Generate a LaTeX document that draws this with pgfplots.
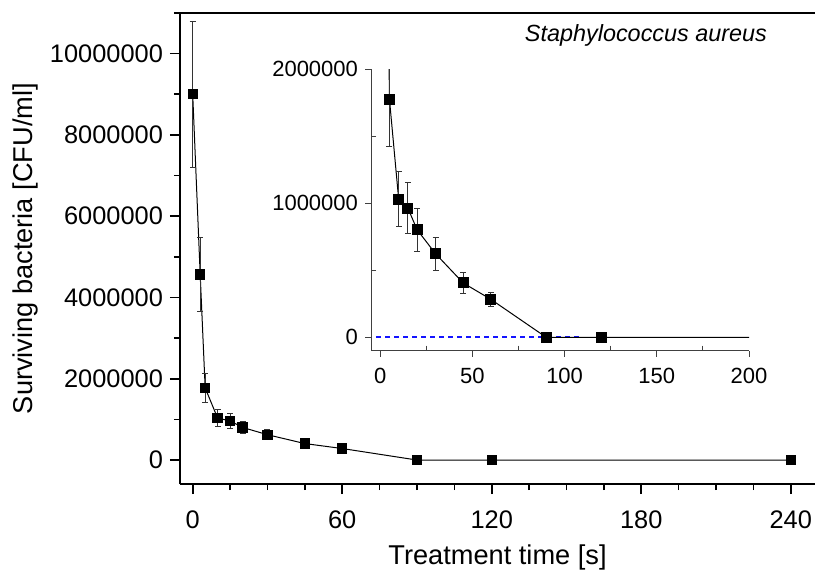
\documentclass[border=0pt]{standalone}
\usepackage{fontspec}
\setmainfont{Liberation Sans}
\usepackage{pgfplots}
\pgfplotsset{compat=1.18}
\definecolor{dashblue}{RGB}{20,20,255}

% time [s], surviving bacteria [CFU/ml], error
\pgfplotstableread{
t    n        e
0    9000000  1790000
3    4570000  910000
5    1775000  353000
10   1030000  206000
15   963000   191000
20   802000   159000
30   623000   125000
45   405000   80000
60   283000   53000
90   0        0
120  0        0
240  0        0
}\survdata

\begin{document}
\begin{tikzpicture}
\useasboundingbox (0,0) rectangle (407.5pt,284.5pt);
% main axis
\begin{axis}[
    at={(90pt,42.5pt)}, anchor=south west,
    scale only axis, width=317.5pt, height=235.5pt,
    xmin=-5.1, xmax=249.75, ymin=-590000, ymax=11000000,
    axis x line=box, axis y line=left, axis line style={-, line width=1pt},
    xtick pos=bottom, ytick pos=left,
    tick align=outside, major tick length=5pt, minor tick length=3pt,
    every tick/.style={black, line width=0.8pt},
    xtick distance=60, minor x tick num=3,
    ytick distance=2000000, minor y tick num=1,
    scaled y ticks=false,
    /pgf/number format/.cd, fixed, precision=0, 1000 sep={}, assume math mode=true,
    /pgfplots/.cd,
    tick label style={font=\fontsize{12.7}{14}\selectfont},
    xticklabel style={yshift=-5pt},
    label style={font=\fontsize{13.6}{15}\selectfont},
    xlabel={Treatment time [s]}, ylabel={Surviving bacteria [CFU/ml]},
    xlabel style={yshift=-3.2pt, inner sep=1pt}, ylabel style={yshift=-1pt},
  ]
  \addplot[black, line width=0.5pt, mark=square*, mark size=2.35pt,
    error bars/.cd, y dir=both, y explicit,
    error bar style={line width=0.4pt, black!80},
    error mark options={rotate=90, mark size=1.5pt, line width=0.4pt, black!80}]
    table[x=t, y=n, y error=e] {\survdata};
\end{axis}
% inset
\begin{axis}[
    at={(185.5pt,109.15pt)}, anchor=south west,
    scale only axis, width=189pt, height=140.85pt,
    xmin=-5, xmax=200, ymin=-100000, ymax=2000000,
    axis lines=left, axis line style={-, line width=0.5pt, black!75},
    tick align=outside, major tick length=3pt, minor tick length=-2.5pt,
    every tick/.style={black!75, line width=0.5pt},
    xtick distance=50, minor x tick num=1,
    ytick distance=1000000, minor y tick num=1,
    scaled y ticks=false,
    /pgf/number format/.cd, fixed, precision=0, 1000 sep={}, assume math mode=true,
    /pgfplots/.cd,
    tick label style={font=\fontsize{11}{13}\selectfont},
    xticklabel style={yshift=-2pt},
  ]
  \addplot[draw=dashblue, line width=0.8pt, dash pattern=on 2.5pt off 2pt] coordinates {(-2.2,0) (109,0)};
  \addplot[black, line width=0.5pt, mark=square*, mark size=2.5pt,
    error bars/.cd, y dir=both, y explicit,
    error bar style={line width=0.4pt, black!80},
    error mark options={rotate=90, mark size=1.5pt, line width=0.4pt, black!80}]
    table[x=t, y=n, y error=e] {\survdata};
\end{axis}
\node[anchor=east, font=\fontsize{11.7}{13}\selectfont\itshape] at (387pt,267pt) {Staphylococcus aureus};
\end{tikzpicture}
\end{document}
